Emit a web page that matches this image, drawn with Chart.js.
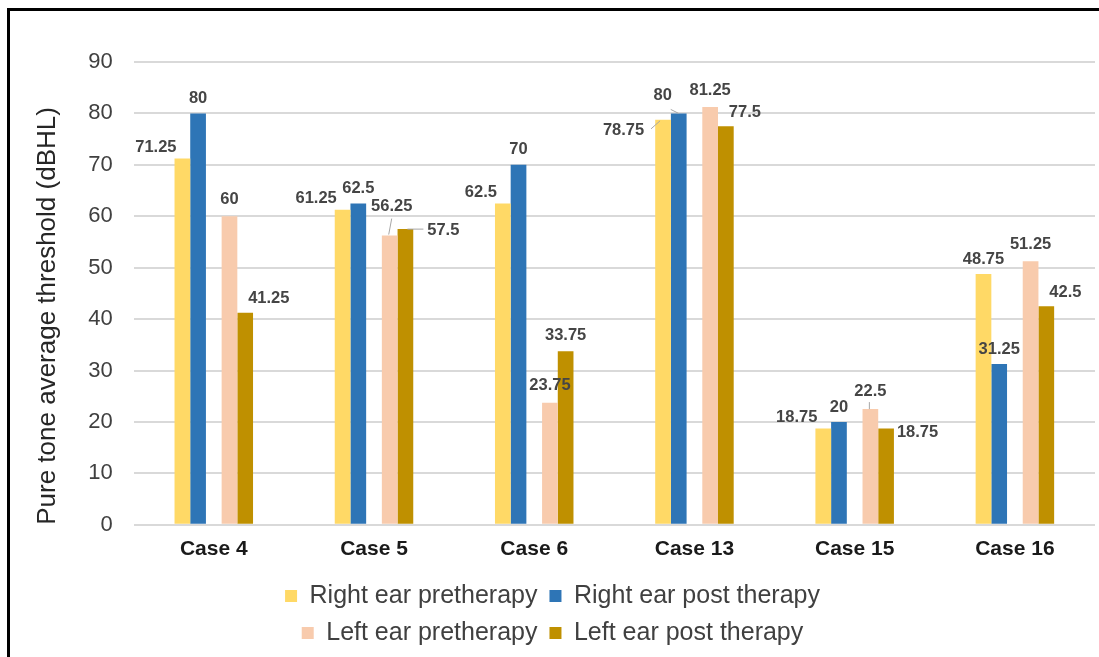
<!DOCTYPE html>
<html>
<head>
<meta charset="utf-8">
<script src="https://cdn.jsdelivr.net/npm/chart.js@4.4.1/dist/chart.umd.min.js"></script>
<style>
    html, body { margin: 0; padding: 0; background: #fff; }
    #wrap { position: relative; width: 1099px; height: 657px; overflow: hidden; }
    #frame { position: absolute; left: 7px; top: 8px; right: -10px; bottom: -10px;
             border-top: 3px solid #000; border-left: 3px solid #000; pointer-events: none; }
</style>
</head>
<body>
<div id="wrap">
    <canvas id="myChart" width="1099" height="657"></canvas>
    <div id="frame"></div>
</div>
<script>
var categories = ["Case 4", "Case 5", "Case 6", "Case 13", "Case 15", "Case 16"];
var rightPre = [71.25, 61.25, 62.5, 78.75, 18.75, 48.75];
var rightPost = [80, 62.5, 70, 80, 20, 31.25];
var leftPre = [60, 56.25, 23.75, 81.25, 22.5, 51.25];
var leftPost = [41.25, 57.5, 33.75, 77.5, 18.75, 42.5];
var yTicks = [0, 10, 20, 30, 40, 50, 60, 70, 80, 90];

var FONT = "'Liberation Sans', Arial, sans-serif";
var LEGEND_W = 700;

// where each series puts its value label (anchor = bar edge it hangs on)
var labelStyle = {
    0: { align: "right", anchor: "left", dx: 2, dy: -11 },
    1: { align: "center", anchor: "center", dx: 0, dy: -15 },
    3: { align: "center", anchor: "center", dx: 0, dy: -17 },
    4: { align: "left", anchor: "center", dx: 3, dy: -14 },
};
// a few labels were moved aside in the original to avoid collisions
var labelMoved = {
    "0-3": { align: "right", anchor: "left", dx: -11, dy: 11, leader: [-12, 9, -3, 1] },
    "0-5": { align: "center", anchor: "center", dx: 0, dy: -15 },
    "1-3": { align: "center", anchor: "center", dx: -16, dy: -18, leader: [-8, -4, 0, 0] },
    "3-1": { align: "center", anchor: "center", dx: 2, dy: -29, leader: [2, -17, -1, -1] },
    "3-4": { align: "center", anchor: "center", dx: 0, dy: -18, leader: [-1, -7, -1, 0] },
    "4-1": { align: "left", anchor: "right", dx: 14, dy: 1, leader: [2, 0, 18, 0] },
    "4-2": { align: "center", anchor: "center", dx: 0, dy: -16 },
    "4-4": { align: "left", anchor: "right", dx: 3, dy: 4 },
};

var valueLabels = {
    id: "valueLabels",
    afterDatasetsDraw: function (chart) {
        var ctx = chart.ctx;
        ctx.save();
        ctx.font = "bold 16.5px " + FONT;
        ctx.textBaseline = "middle";
        chart.data.datasets.forEach(function (ds, di) {
            if (ds.spacer) return;
            var meta = chart.getDatasetMeta(di);
            meta.data.forEach(function (bar, i) {
                var s = labelMoved[di + "-" + i] || labelStyle[di];
                var half = bar.width / 2;
                var ax = bar.x;
                if (s.anchor === "left") ax = bar.x - half;
                if (s.anchor === "right") ax = bar.x + half;
                if (s.leader) {
                    ctx.strokeStyle = "#a6a6a6";
                    ctx.lineWidth = 1;
                    ctx.beginPath();
                    ctx.moveTo(bar.x + s.leader[0], bar.y + s.leader[1]);
                    ctx.lineTo(bar.x + s.leader[2], bar.y + s.leader[3]);
                    ctx.stroke();
                }
                ctx.fillStyle = "#454545";
                ctx.textAlign = s.align;
                ctx.fillText(String(ds.data[i]), ax + s.dx, bar.y + s.dy);
            });
        });
        ctx.restore();
    },
};

// two legend rows of two items, centred under the plot
var legendWrap = {
    id: "legendWrap",
    beforeLayout: function (chart) {
        var lg = chart.legend;
        if (lg && !lg._wrapped) {
            var up = lg.update;
            lg.update = function (w, h, m) {
                return up.call(this, Math.min(w, LEGEND_W), h, m);
            };
            lg._wrapped = true;
        }
    },
    afterLayout: function (chart) {
        var lg = chart.legend;
        var c = (lg.left + lg.right) / 2;
        lg.left = c - LEGEND_W / 2;
        lg.right = c + LEGEND_W / 2;
        lg.width = LEGEND_W;
        lg.top -= 1.5;
        lg.bottom -= 1.5;
    },
};

var config = {
    type: "bar",
    data: {
        labels: categories,
        datasets: [
            { label: "Right ear pretherapy", data: rightPre, backgroundColor: "#FFD966" },
            { label: "Right ear post therapy", data: rightPost, backgroundColor: "#2E75B6" },
            { label: "", data: categories.map(function () { return null; }), backgroundColor: "rgba(0,0,0,0)", spacer: true },
            { label: "Left ear pretherapy", data: leftPre, backgroundColor: "#F8CBAD" },
            { label: "Left ear post therapy", data: leftPost, backgroundColor: "#BF9000" },
        ],
    },
    options: {
        responsive: false,
        animation: false,
        categoryPercentage: 0.49,
        barPercentage: 1,
        layout: {
            padding: { left: 10, right: 4, top: 62, bottom: 0 },
        },
        scales: {
            x: {
                grid: { display: false, drawTicks: false },
                border: { display: false },
                ticks: {
                    padding: 11.5,
                    color: "#1a1a1a",
                    font: { family: FONT, size: 21, weight: "bold" },
                },
            },
            y: {
                min: 0,
                max: 90,
                afterBuildTicks: function (axis) {
                    axis.ticks = yTicks.map(function (v) { return { value: v }; });
                },
                grid: { color: "#d9d9d9", lineWidth: 2, drawTicks: false },
                border: { display: false },
                ticks: {
                    padding: 21,
                    color: "#404040",
                    font: { family: FONT, size: 22 },
                },
                title: {
                    display: true,
                    text: "Pure tone average threshold (dBHL)",
                    align: "start",
                    color: "#262626",
                    padding: { top: 22, bottom: 4 },
                    font: { family: FONT, size: 26 },
                },
            },
        },
        plugins: {
            tooltip: { enabled: false },
            legend: {
                display: true,
                position: "bottom",
                labels: {
                    boxWidth: 12,
                    boxHeight: 12,
                    padding: 12,
                    color: "#404040",
                    font: { family: FONT, size: 25 },
                    filter: function (item) {
                        return item.text !== "";
                    },
                },
            },
        },
    },
    plugins: [valueLabels, legendWrap],
};

var ctx = document.getElementById("myChart");
window.myBar = new Chart(ctx, config);
</script>
</body>
</html>
